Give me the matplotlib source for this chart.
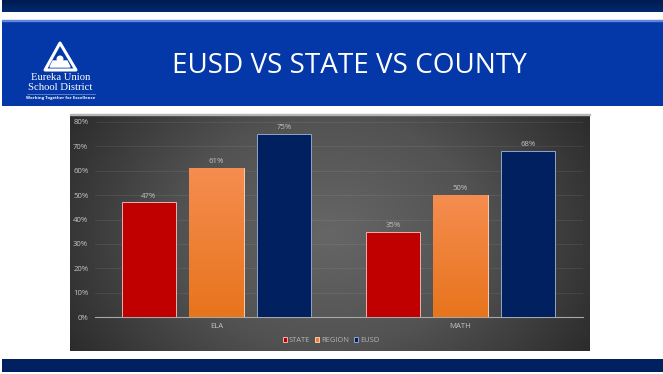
import numpy as np
import matplotlib
matplotlib.use("Agg")
import matplotlib.pyplot as plt
from matplotlib.colors import LinearSegmentedColormap
from matplotlib.patches import Polygon, Rectangle, Circle
from matplotlib.ticker import PercentFormatter

categories = ["ELA", "MATH"]
state = [47, 35]
region = [61, 50]
eusd = [75, 68]
yticks = [0, 10, 20, 30, 40, 50, 60, 70, 80]
title = "EUSD VS STATE VS COUNTY"

W, H = 663, 374
fig = plt.figure(figsize=(W / 100, H / 100), dpi=100, facecolor="white")
plt.rcParams["font.family"] = ["Open Sans", "DejaVu Sans"]


def px_axes(x0, y0, x1, y1, **kw):
    return fig.add_axes([x0 / W, 1 - y1 / H, (x1 - x0) / W, (y1 - y0) / H], **kw)


def band(x0, y0, x1, y1, top, bottom):
    a = px_axes(x0, y0, x1, y1)
    cmap = LinearSegmentedColormap.from_list("b", [top, bottom])
    a.imshow(np.linspace(0, 1, 32).reshape(-1, 1), aspect="auto", cmap=cmap)
    a.axis("off")
    return a


band(2, 0, 663, 12, "#001B52", "#002A6B")
band(2, 359, 663, 372, "#002060", "#002060")
band(2, 20, 663, 106, "#0437A8", "#0437A8")
fig.add_artist(Rectangle((2 / W, 1 - 21 / H), 661 / W, 1 / H, color="#5F86D8", transform=fig.transFigure))

# Title
fig.text(349.5 / W, 1 - 66 / H, title, color="white", fontsize=20.1, ha="center", va="center",
         family=["Open Sans", "DejaVu Sans"])

# Logo
logo = px_axes(0, 20, 120, 106)
logo.set_xlim(0, 120)
logo.set_ylim(106, 20)
logo.axis("off")
logo.add_patch(Polygon([[60, 43], [76, 70], [45, 70]], closed=True, fc="#0437A8", ec="white", lw=2.2, joinstyle="round"))
logo.add_patch(Circle((60, 59), 2.8, color="white"))
logo.add_patch(Polygon([[50, 67], [70, 67], [67, 61], [53, 61]], closed=True, color="white"))
serif = ["Liberation Serif", "DejaVu Serif"]
logo.text(60.5, 78.0, "Eureka Union", color="white", fontsize=7.7, ha="center", va="center", family=serif)
logo.text(60.5, 88.0, "School District", color="white", fontsize=7.7, ha="center", va="center", family=serif)
logo.plot([27, 95], [94, 94], color="#9FB4E0", lw=0.4)
logo.text(60.5, 98.5, "Working Together for Excellence", color="white", fontsize=3.1, ha="center", va="center",
          fontweight="bold")

# Chart background
bg = px_axes(70, 114, 590, 351)
yy, xx = np.mgrid[-1:1:120j, -1:1:260j]
r = np.clip(np.sqrt(xx ** 2 + 0.35 * yy ** 2) / 1.16, 0, 1)
bg_cmap = LinearSegmentedColormap.from_list("bg", ["#666666", "#525252", "#2C2C2C"])
bg.imshow(r, aspect="auto", cmap=bg_cmap, vmin=0, vmax=1)
bg.axis("off")
fig.add_artist(Rectangle((70 / W, 1 - 115 / H), 520 / W, 1 / H, color="#B5B5B5", transform=fig.transFigure))

# Plot
ax = px_axes(94.5, 122, 582.5, 317)
ax.patch.set_alpha(0)
ax.set_xlim(-0.5, 1.5)
ax.set_ylim(0, 80)
x = np.arange(len(categories))
bw = 0.222
step = 0.277
b1 = ax.bar(x - step, state, bw, color="#C00000", edgecolor="#E8B4AC", lw=0.7, zorder=3, label="STATE")
b2 = ax.bar(x, region, bw, color="#ED7D31", edgecolor="#F7CDB0", lw=0.7, zorder=3, label="REGION")
b3 = ax.bar(x + step, eusd, bw, color="#002060", edgecolor="#8FA5CC", lw=0.7, zorder=3, label="EUSD")

grad = LinearSegmentedColormap.from_list("o", ["#F58D50", "#E8741C"])
for rect in b2:
    im = ax.imshow(np.linspace(0, 1, 64).reshape(-1, 1), cmap=grad, aspect="auto", zorder=3.1,
                   extent=[rect.get_x(), rect.get_x() + rect.get_width(), 0, rect.get_height()])
    im.set_clip_path(rect)
ax.set_xlim(-0.5, 1.5)
ax.set_ylim(0, 80)

label_color = "#C4C4C4"
for bars in (b1, b2, b3):
    for rect in bars:
        ax.text(rect.get_x() + rect.get_width() / 2, rect.get_height() + 1.2,
                f"{rect.get_height():.0f}%", color=label_color, fontsize=5.6, ha="center", va="bottom", zorder=5)

ax.set_yticks(yticks)
ax.yaxis.set_major_formatter(PercentFormatter(decimals=0))
ax.set_xticks(x, categories)
ax.tick_params(axis="both", length=0, labelsize=5.6, labelcolor=label_color)
ax.tick_params(axis="y", pad=4.5)
ax.tick_params(axis="x", pad=4.5)
ax.grid(axis="y", color="#FFFFFF", alpha=0.07, lw=0.7, zorder=1)
ax.set_axisbelow(True)
for side in ("top", "left", "right"):
    ax.spines[side].set_visible(False)
ax.spines["bottom"].set_color("#A8A8A8")
ax.spines["bottom"].set_linewidth(0.8)

leg = ax.legend(loc="center", bbox_to_anchor=((331 - 94.5) / 488, (317 - 340.5) / 195), ncol=3, frameon=False,
                fontsize=5.4, labelcolor="#B4B4B4", handlelength=0.6, handleheight=0.6,
                handletextpad=0.25, columnspacing=0.6, borderpad=0, borderaxespad=0)

fig.savefig("out.png", dpi=100, facecolor="white")
